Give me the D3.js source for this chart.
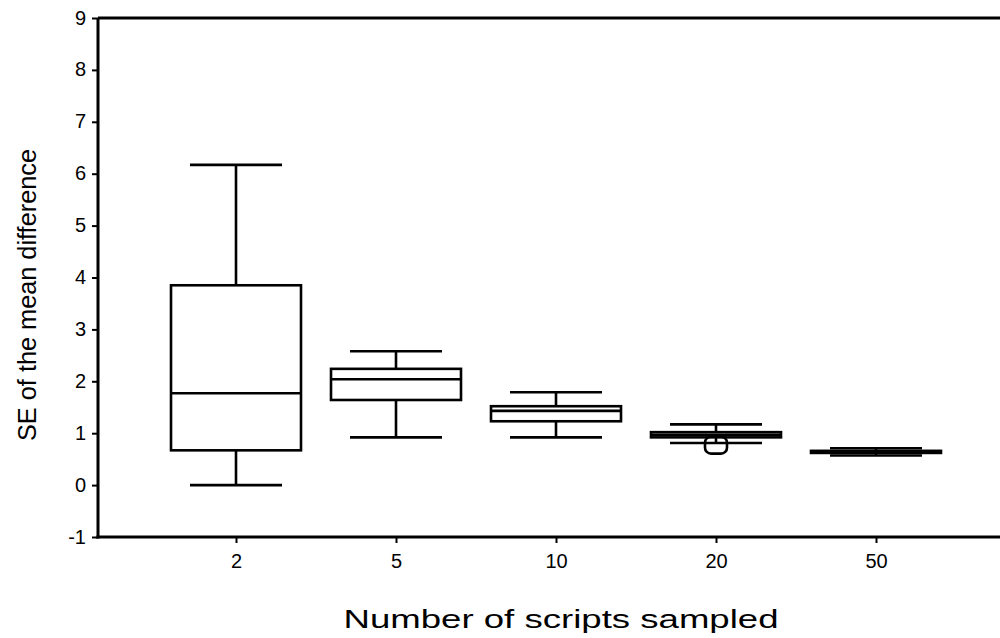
<!DOCTYPE html>
<html>
<head>
<meta charset="utf-8">
<script src="https://cdn.jsdelivr.net/npm/d3@7"></script>
<style>
  body { margin: 0; background: #fff; }
  text { font-family: "Liberation Sans", Arial, sans-serif; fill: #000; }
</style>
</head>
<body>
<div id="chart"></div>
<script>
// data
const groups = ['2', '5', '10', '20', '50']
const whiskerLow  = [0.00, 0.92, 0.92, 0.81, 0.57]
const q1          = [0.67, 1.64, 1.23, 0.92, 0.62]
const median      = [1.77, 2.04, 1.43, 0.97, 0.64]
const q3          = [3.85, 2.24, 1.52, 1.02, 0.66]
const whiskerHigh = [6.17, 2.58, 1.79, 1.17, 0.71]
const outliers    = [[], [], [], [0.76], []]
const yTicks = [-1, 0, 1, 2, 3, 4, 5, 6, 7, 8, 9]

const width = 1000, height = 638
const plotLeft = 98, plotTop = 18, plotBottom = 537

const svg = d3.select('#chart').append('svg')
    .attr('width', width)
    .attr('height', height)

// x: group index on a linear scale, axis runs off the right edge
const x = d3.scaleLinear().domain([0.1375, 5.8875]).range([plotLeft, 1018])
const y = d3.scaleLinear().domain([-1, 9]).range([plotBottom, plotTop])

const boxHalf = 65, capHalf = 46

// frame top line
svg.append('line')
    .attr('x1', plotLeft).attr('x2', width)
    .attr('y1', y(9)).attr('y2', y(9))
    .attr('stroke', '#000').attr('stroke-width', 3)

// y axis
const yAxis = svg.append('g')
    .attr('transform', 'translate(' + plotLeft + ',0)')
    .attr('font-size', 20)
    .call(d3.axisLeft(y).tickValues(yTicks).tickSize(6).tickPadding(6).tickFormat(d => String(d)))
yAxis.attr('font-size', 20)
yAxis.select('.domain').attr('stroke-width', 3).attr('d', 'M0,' + y(9) + 'V' + (plotBottom + 1.5))
yAxis.selectAll('.tick line').attr('stroke-width', 2)
yAxis.selectAll('.tick text').attr('dy', '0.3em')

// x axis
const xAxis = svg.append('g')
    .attr('transform', 'translate(0,' + plotBottom + ')')
    .call(d3.axisBottom(x).tickValues(d3.range(1, groups.length + 1)).tickSize(6).tickPadding(11)
        .tickFormat(i => groups[i - 1]))
xAxis.attr('font-size', 20)
xAxis.select('.domain').attr('stroke-width', 3).attr('d', 'M' + (plotLeft - 1.5) + ',0H' + width)
xAxis.selectAll('.tick line').attr('stroke-width', 2)

// boxes
const data = groups.map((g, i) => ({
    g: g, cx: x(i + 1),
    lo: whiskerLow[i], q1: q1[i], med: median[i], q3: q3[i], hi: whiskerHigh[i],
    out: outliers[i]
}))

const box = svg.selectAll('g.box').data(data).enter().append('g')
    .attr('class', 'box')
    .attr('stroke', '#000')
    .attr('stroke-width', 2.6)
    .attr('fill', 'none')

// whiskers
box.append('line')
    .attr('x1', d => d.cx).attr('x2', d => d.cx)
    .attr('y1', d => y(d.hi)).attr('y2', d => y(d.q3))
box.append('line')
    .attr('x1', d => d.cx).attr('x2', d => d.cx)
    .attr('y1', d => y(d.q1)).attr('y2', d => y(d.lo))
// caps
box.append('line')
    .attr('x1', d => d.cx - capHalf).attr('x2', d => d.cx + capHalf)
    .attr('y1', d => y(d.hi)).attr('y2', d => y(d.hi))
box.append('line')
    .attr('x1', d => d.cx - capHalf).attr('x2', d => d.cx + capHalf)
    .attr('y1', d => y(d.lo)).attr('y2', d => y(d.lo))
// box
box.append('rect')
    .attr('x', d => d.cx - boxHalf)
    .attr('width', boxHalf * 2)
    .attr('y', d => y(d.q3))
    .attr('height', d => y(d.q1) - y(d.q3))
// median
box.append('line')
    .attr('x1', d => d.cx - boxHalf).attr('x2', d => d.cx + boxHalf)
    .attr('y1', d => y(d.med)).attr('y2', d => y(d.med))
// outliers
box.selectAll('rect.out').data(d => d.out.map(v => ({cx: d.cx, v: v}))).enter().append('rect')
    .attr('class', 'out')
    .attr('x', d => d.cx - 11)
    .attr('y', d => y(d.v) - 9)
    .attr('width', 22).attr('height', 17)
    .attr('rx', 6)
    .attr('fill', 'none')

// labels
svg.append('text')
    .attr('x', 561).attr('y', 628)
    .attr('text-anchor', 'middle')
    .attr('textLength', 435)
    .attr('lengthAdjust', 'spacingAndGlyphs')
    .style('font-size', '25px')
    .text('Number of scripts sampled')

svg.append('text')
    .attr('transform', 'translate(36,295) rotate(-90)')
    .attr('text-anchor', 'middle')
    .attr('textLength', 292)
    .attr('lengthAdjust', 'spacingAndGlyphs')
    .style('font-size', '25px')
    .text('SE of the mean difference')
</script>
</body>
</html>
